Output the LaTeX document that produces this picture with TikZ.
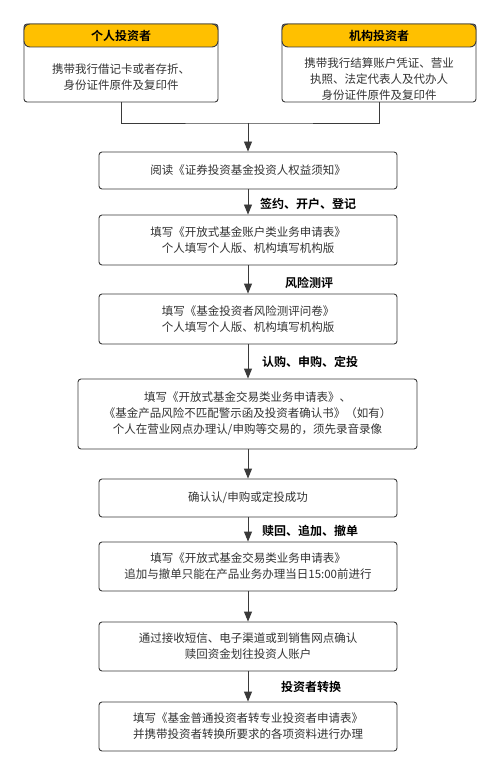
\documentclass[tikz,border=0pt]{standalone}
\usepackage{fontspec}
\setmainfont{Noto Sans CJK SC}[BoldFont={Noto Sans CJK SC Bold}]
\usetikzlibrary{arrows.meta}
\definecolor{ln}{HTML}{3A3A3A}
\definecolor{tx}{HTML}{333333}
\definecolor{hd}{HTML}{FFC000}
\tikzset{
  box/.style={draw=ln, line width=0.9pt, rounded corners=3pt, fill=white, align=center, text=tx, font=\fontsize{11.5}{16}\selectfont, inner sep=0pt},
  hdr/.style={draw=ln, line width=0.9pt, rounded corners=6pt, fill=hd, align=center, text=black, font=\bfseries\fontsize{12}{16}\selectfont, inner sep=0pt},
  btxt/.style={align=center, text=tx, font=\fontsize{11.5}{16}\selectfont, inner sep=0pt},
  lbl/.style={text=black, font=\bfseries\fontsize{12}{16}\selectfont, inner sep=0pt, anchor=west},
  conn/.style={draw=ln, line width=0.9pt},
  arr/.style={conn, -{Triangle[length=10pt,width=8pt]}}
}
\begin{document}
\begin{tikzpicture}[x=1pt,y=-1pt]
\useasboundingbox (0,0) rectangle (500,775);
% top boxes
\node[box, minimum width=194pt, minimum height=78pt] (L) at (121,63) {};
\node[hdr, minimum width=194pt, minimum height=23pt] (Lh) at (121,35.5) {个人投资者};
\node[btxt] (Lt) at (121,77) {携带我行借记卡或者存折、\\身份证件原件及复印件};
\node[box, minimum width=194pt, minimum height=78pt] (R) at (379,63) {};
\node[hdr, minimum width=194pt, minimum height=23pt] (Rh) at (379,35.5) {机构投资者};
\node[btxt] (Rt) at (379,79) {携带我行结算账户凭证、营业\\执照、法定代表人及代办人\\身份证件原件及复印件};
\coordinate (m) at (248,123);
\draw[conn] (L.south) |- (m) -| (R.south);
% flow boxes
\node[box, minimum width=298pt, minimum height=37pt] (b1) at (248,170.5) {阅读《证券投资基金投资人权益须知》};
\node[box, minimum width=298pt, minimum height=50pt] (b2) at (248,240) {填写《开放式基金账户类业务申请表》\\个人填写个人版、机构填写机构版};
\node[box, minimum width=298pt, minimum height=50pt] (b3) at (248,319) {填写《基金投资者风险测评问卷》\\个人填写个人版、机构填写机构版};
\node[box, minimum width=339pt, minimum height=70pt] (b4) at (247.5,414) {填写《开放式基金交易类业务申请表》、\\《基金产品风险不匹配警示函及投资者确认书》（如有）\\个人在营业网点办理认/申购等交易的，须先录音录像};
\node[box, minimum width=298pt, minimum height=38pt] (b5) at (248,498) {确认认/申购或定投成功};
\node[box, minimum width=298pt, minimum height=49pt] (b6) at (248,566.5) {填写《开放式基金交易类业务申请表》\\追加与撤单只能在产品业务办理当日15:00前进行};
\node[box, minimum width=298pt, minimum height=49pt] (b7) at (248,646.5) {通过接收短信、电子渠道或到销售网点确认\\赎回资金划往投资人账户};
\node[box, minimum width=298pt, minimum height=49pt] (b8) at (248,726.5) {填写《基金普通投资者转专业投资者申请表》\\并携带投资者转换所要求的各项资料进行办理};
% arrows
\draw[arr] (m) -- (b1.north);
\draw[arr] (b1) -- (b2);
\draw[arr] (b2) -- (b3);
\draw[arr] (b3) -- (b3 |- b4.north);
\draw[arr] (b4.south -| b5) -- (b5);
\draw[arr] (b5) -- (b6);
\draw[arr] (b6) -- (b7);
\draw[arr] (b7) -- (b8);
% labels
\node[lbl] (l1) at (260,204) {签约、开户、登记};
\node[lbl] (l2) at (285,283) {风险测评};
\node[lbl] (l3) at (262,362) {认购、申购、定投};
\node[lbl] (l4) at (262,531) {赎回、追加、撤单};
\node[lbl] (l5) at (281,687) {投资者转换};
\end{tikzpicture}
\end{document}
